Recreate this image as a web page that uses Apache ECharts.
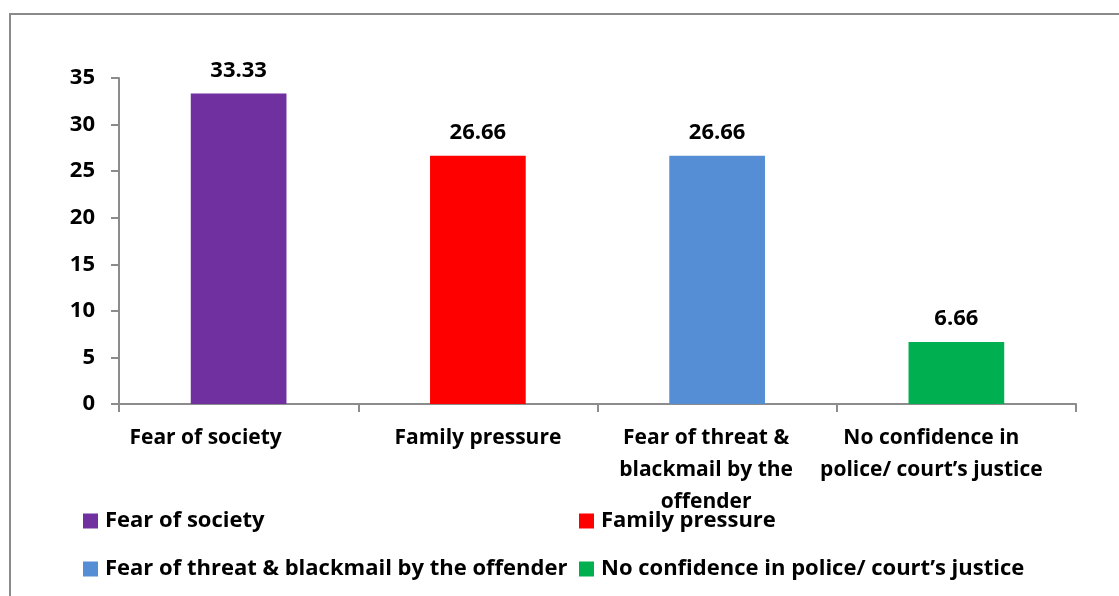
<!DOCTYPE html>
<html>
<head>
<meta charset="utf-8">
<script src="https://cdn.jsdelivr.net/npm/echarts@6/dist/echarts.min.js"></script>
<style>html,body{margin:0;padding:0;background:#fff}#c{width:1119px;height:596px}</style>
</head>
<body>
<div id="c"></div>
<script>
const categories = ["Fear of society", "Family pressure", "Fear of threat & blackmail by the offender", "No confidence in police/ court\u2019s justice"];
const axisLabels = ["Fear of society", "Family pressure", "Fear of threat &\nblackmail by the\noffender", "No confidence in\npolice/ court\u2019s justice"];
const values = [33.33, 26.66, 26.66, 6.66];
const colors = ["#7030A0", "#FF0000", "#558ED5", "#00B050"];
const yTicks = [0, 5, 10, 15, 20, 25, 30, 35];

const FONT = "'Open Sans', 'Liberation Sans', sans-serif";
const chart = echarts.init(document.getElementById('c'), null, {renderer: 'canvas'});

const series = categories.map((name, i) => ({
  name: name,
  type: 'bar',
  stack: 'all',
  barWidth: '40%',
  itemStyle: {color: colors[i]},
  data: categories.map((_, j) => j === i ? values[i] : '-'),
  label: {
    show: true, position: 'top', distance: 12,
    color: '#000', fontFamily: FONT, fontWeight: 'bold', fontSize: 22,
    formatter: p => values[p.dataIndex].toFixed(2)
  }
}));

const legendPos = [[83, 510], [579, 510], [83, 558], [579, 558]];
const legends = categories.map((name, i) => ({
  data: [name],
  left: legendPos[i][0], top: legendPos[i][1],
  itemWidth: 15, itemHeight: 15, itemGap: 0,
  icon: 'rect',
  selectedMode: false,
  padding: 0,
  textStyle: {color: '#000', fontFamily: FONT, fontWeight: 'bold', fontSize: 22, padding: [0, 0, 0, 2]}
}));

// Horizontal nudge of each category label (as in the reference layout)
const labelPad = [[0, 66, 0, 0], [0, 0, 0, 0], [0, 22, 0, 0], [0, 50, 0, 0]];

chart.setOption({
  animation: false,
  backgroundColor: '#fff',
  graphic: [{
    type: 'rect', silent: true,
    shape: {x: 10, y: 14, width: 1200, height: 700},
    style: {fill: 'none', stroke: '#8a8a8a', lineWidth: 2}
  }],
  grid: {left: 119, right: 43, top: 78, bottom: 192},
  legend: legends,
  xAxis: {
    type: 'category',
    data: categories.map((c, i) => ({value: c, textStyle: {padding: labelPad[i]}})),
    axisLine: {show: true, lineStyle: {color: '#8c8c8c', width: 2}},
    axisTick: {show: true, alignWithLabel: false, length: 8, lineStyle: {color: '#8c8c8c', width: 2}},
    axisLabel: {
      interval: 0, margin: 18, color: '#000', fontFamily: FONT, fontWeight: 'bold', fontSize: 21,
      lineHeight: 32,
      formatter: (v, i) => axisLabels[i]
    }
  },
  yAxis: {
    type: 'value', min: 0, max: 35, interval: 5,
    axisLine: {show: true, lineStyle: {color: '#8c8c8c', width: 2}},
    axisTick: {show: true, length: 8, lineStyle: {color: '#8c8c8c', width: 2}},
    splitLine: {show: false},
    axisLabel: {margin: 24, color: '#000', fontFamily: FONT, fontWeight: 'bold', fontSize: 22,
      formatter: v => yTicks.includes(v) ? String(v) : ''}
  },
  series: series
});
</script>
</body>
</html>
